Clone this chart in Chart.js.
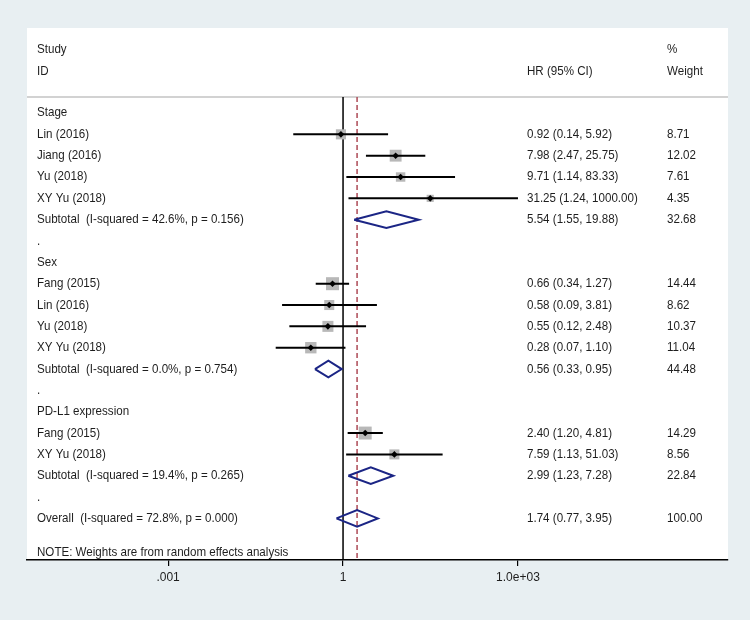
<!DOCTYPE html>
<html>
<head>
<meta charset="utf-8">
<script src="https://cdn.jsdelivr.net/npm/chart.js@4"></script>
<style>
  html, body { margin: 0; padding: 0; background: #e8eff2; }
  #c { display: block; }
</style>
</head>
<body>
<canvas id="c" width="750" height="620"></canvas>
<script>
// ---- data ----
const rowLabels = ['Stage','Lin (2016)','Jiang (2016)','Yu (2018)','XY Yu (2018)',
  'Subtotal  (I-squared = 42.6%, p = 0.156)','.',
  'Sex','Fang (2015)','Lin (2016)','Yu (2018)','XY Yu (2018)',
  'Subtotal  (I-squared = 0.0%, p = 0.754)','.',
  'PD-L1 expression','Fang (2015)','XY Yu (2018)',
  'Subtotal  (I-squared = 19.4%, p = 0.265)','.',
  'Overall  (I-squared = 72.8%, p = 0.000)'];
const rowTypes = ['group','study','study','study','study','pooled','blank',
  'group','study','study','study','study','pooled','blank',
  'group','study','study','pooled','blank','pooled'];
const hr     = [null,0.92,7.98,9.71,31.25,5.54,null,null,0.66,0.58,0.55,0.28,0.56,null,null,2.40,7.59,2.99,null,1.74];
const ciLow  = [null,0.14,2.47,1.14,1.24,1.55,null,null,0.34,0.09,0.12,0.07,0.33,null,null,1.20,1.13,1.23,null,0.77];
const ciHigh = [null,5.92,25.75,83.33,1000.00,19.88,null,null,1.27,3.81,2.48,1.10,0.95,null,null,4.81,51.03,7.28,null,3.95];
const weights= [null,8.71,12.02,7.61,4.35,32.68,null,null,14.44,8.62,10.37,11.04,44.48,null,null,14.29,8.56,22.84,null,100.00];
const overallRow = 19;
const headerLeft = ['Study','ID'];
const headerHR = 'HR (95% CI)';
const headerWeight = ['%','Weight'];
const noteText = 'NOTE: Weights are from random effects analysis';
const tickValues = [0.001, 1, 1000];
const tickLabels = ['.001','1','1.0e+03'];
const nullValue = 1;

// ---- styles ----
const FONT = '12.6px "Liberation Sans", Arial, sans-serif';
const TEXT_SX = 0.92;
const TEXT = '#1e1e1e';
const BG = '#e8eff2';
const NAVY = '#1b2585';
const X_MIN = 3.8e-6, X_MAX = 4.0e6;
const Y_MIN = -0.75, Y_MAX = 20.95;
const NOTE_ROW = 20.62;
const DIAMOND_HALF = 0.39;
const SQUARE_K = 2.42;

const datasets = [];
const yTop = Y_MIN, yBot = Y_MAX;

// reference lines
datasets.push({
  label: 'null', data: [{x: nullValue, y: yTop}, {x: nullValue, y: yBot}],
  showLine: true, borderColor: '#000', borderWidth: 1.5, pointRadius: 0, order: 10
});
datasets.push({
  label: 'overall', data: [{x: hr[overallRow], y: yTop}, {x: hr[overallRow], y: yBot}],
  showLine: true, borderColor: '#ad4a55', borderWidth: 1.5, borderDash: [5, 3], pointRadius: 0, order: 9
});

// study squares
const studyIdx = rowTypes.map((t, i) => t === 'study' ? i : -1).filter(i => i >= 0);
datasets.push({
  label: 'squares',
  data: studyIdx.map(i => ({x: hr[i], y: i, w: weights[i]})),
  pointStyle: 'rect', backgroundColor: '#b8b8b8', borderWidth: 0,
  pointRadius: ctx => ctx.raw ? SQUARE_K * Math.sqrt(ctx.raw.w) : 0,
  order: 8
});
// CI lines
studyIdx.forEach(i => {
  datasets.push({
    label: 'ci' + i,
    data: [{x: ciLow[i], y: i}, {x: ciHigh[i], y: i}],
    showLine: true, borderColor: '#000', borderWidth: 2, pointRadius: 0, order: 7
  });
});
// centre points
datasets.push({
  label: 'centres',
  data: studyIdx.map(i => ({x: hr[i], y: i})),
  pointStyle: 'rectRot', backgroundColor: '#000', borderColor: '#000', borderWidth: 0, pointRadius: 3.3,
  order: 1
});
// pooled diamonds
rowTypes.forEach((t, i) => {
  if (t !== 'pooled') return;
  datasets.push({
    label: 'pool' + i,
    data: [{x: ciLow[i], y: i}, {x: hr[i], y: i - DIAMOND_HALF}, {x: ciHigh[i], y: i},
           {x: hr[i], y: i + DIAMOND_HALF}, {x: ciLow[i], y: i}],
    showLine: true, borderColor: NAVY, borderWidth: 2, pointRadius: 0, fill: false,
    borderJoinStyle: 'miter', order: 2
  });
});

const bgPlugin = {
  id: 'bg',
  beforeDraw(chart) {
    const ctx = chart.ctx, a = chart.chartArea;
    ctx.save();
    ctx.fillStyle = BG;
    ctx.fillRect(0, 0, chart.width, chart.height);
    ctx.fillStyle = '#ffffff';
    ctx.fillRect(a.left, 28, a.right - a.left, a.bottom - 28);
    ctx.strokeStyle = '#d2d2d2';
    ctx.lineWidth = 2;
    ctx.beginPath();
    ctx.moveTo(a.left, a.top);
    ctx.lineTo(a.right, a.top);
    ctx.stroke();
    ctx.restore();
  }
};

const textPlugin = {
  id: 'texts',
  afterDatasetsDraw(chart) {
    const ctx = chart.ctx, ys = chart.scales.y;
    ctx.save();
    ctx.font = FONT;
    ctx.fillStyle = TEXT;
    ctx.textBaseline = 'middle';
    ctx.textAlign = 'left';
    const put = (s, x, y) => {
      ctx.save();
      ctx.translate(x, y);
      ctx.scale(TEXT_SX, 1);
      ctx.fillText(s, 0, 0);
      ctx.restore();
    };
    const xL = 37, xHR = 527, xW = 667;
    put(headerLeft[0], xL, 50);
    put(headerLeft[1], xL, 72);
    put(headerHR, xHR, 72);
    put(headerWeight[0], xW, 50);
    put(headerWeight[1], xW, 72);
    rowLabels.forEach((lab, i) => {
      const y = ys.getPixelForValue(i);
      put(lab, xL, y);
      if (hr[i] !== null) {
        put(hr[i].toFixed(2) + ' (' + ciLow[i].toFixed(2) + ', ' + ciHigh[i].toFixed(2) + ')', xHR, y);
        put(weights[i].toFixed(2), xW, y);
      }
    });
    put(noteText, xL, ys.getPixelForValue(NOTE_ROW));
    ctx.restore();
  }
};

new Chart(document.getElementById('c'), {
  type: 'scatter',
  data: { datasets },
  plugins: [bgPlugin, textPlugin],
  options: {
    responsive: false,
    animation: false,
    events: [],
    layout: { padding: { left: 27, right: 22, top: 97, bottom: 0 } },
    plugins: { legend: { display: false }, tooltip: { enabled: false } },
    scales: {
      x: {
        type: 'logarithmic', min: X_MIN, max: X_MAX, position: 'bottom',
        afterBuildTicks: s => { s.ticks = tickValues.map(v => ({ value: v })); },
        afterFit: s => { s.height = 60; },
        grid: { drawOnChartArea: false, drawTicks: true, tickLength: 6, color: '#000', lineWidth: 1.2 },
        border: { display: true, color: '#000', width: 1.5 },
        ticks: {
          autoSkip: false, maxRotation: 0, padding: 4, color: TEXT,
          font: { family: '"Liberation Sans", Arial, sans-serif', size: 12 },
          callback: (v) => { const k = tickValues.indexOf(v); return k >= 0 ? tickLabels[k] : ''; }
        }
      },
      y: { type: 'linear', reverse: true, min: Y_MIN, max: Y_MAX, display: false }
    }
  }
});
</script>
</body>
</html>
